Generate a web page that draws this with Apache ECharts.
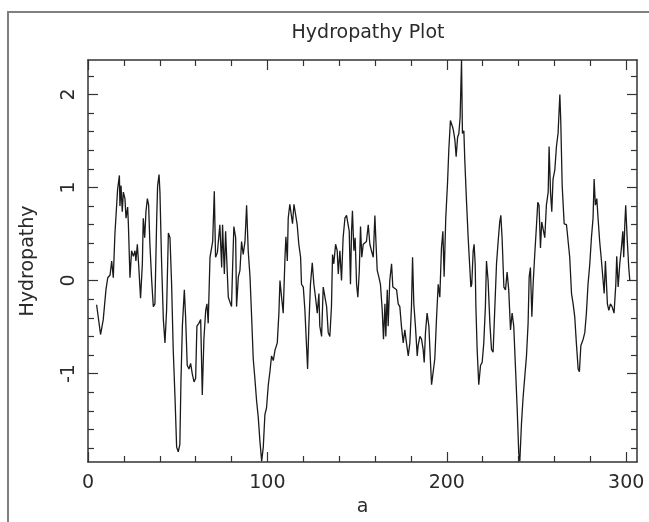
<!DOCTYPE html>
<html>
<head>
<meta charset="utf-8">
<script src="https://cdn.jsdelivr.net/npm/echarts@6/dist/echarts.min.js"></script>
<style>html,body{margin:0;padding:0;background:#fff}#c{width:649px;height:522px}</style>
</head>
<body>
<div id="c"></div>
<script>
// Residue position (window centre) and hydropathy value
const residue = [4.8,5.8,7.0,8.5,10.0,11.0,12.3,13.2,14.1,15.0,16.0,16.5,17.5,17.8,18.4,19.1,19.7,20.6,21.2,22.1,22.5,23.4,24.3,25.3,26.2,26.7,27.5,28.2,29.3,30.3,30.8,31.6,32.3,33.1,33.8,34.5,35.5,36.4,37.3,38.3,38.8,39.6,40.1,41.0,42.0,42.9,43.8,44.8,45.7,46.6,47.5,48.5,49.4,50.3,51.2,51.8,52.6,53.7,54.4,55.3,56.3,57.2,58.1,59.1,60.0,60.7,61.8,62.8,63.7,64.6,65.6,66.3,67.0,68.0,68.9,69.5,70.4,71.1,72.1,73.0,73.5,74.5,75.0,76.0,76.7,77.6,78.2,79.1,80.0,80.6,81.3,82.3,82.8,83.8,84.7,85.6,86.5,87.5,88.4,89.3,90.3,91.2,92.1,93.0,94.0,94.9,95.8,96.8,97.7,98.6,99.5,100.5,101.4,102.3,103.3,104.2,105.5,106.4,107.0,107.9,108.8,109.8,110.3,111.1,111.6,112.5,113.5,114.0,114.8,115.9,116.6,117.5,118.5,119.0,120.0,120.9,121.8,122.4,123.1,124.0,125.0,125.9,126.8,127.8,128.7,129.2,130.2,131.1,132.0,133.0,133.9,134.8,135.7,136.3,137.0,138.0,138.9,139.5,140.4,141.3,142.2,143.2,144.1,145.0,145.6,146.3,146.9,147.4,148.2,148.9,149.7,150.4,151.2,151.9,152.6,153.4,155.2,156.2,157.1,158.0,159.0,159.9,160.4,161.2,162.1,163.0,164.0,164.7,165.5,166.0,166.8,167.3,168.2,169.2,169.9,171.0,172.0,172.9,173.8,174.7,175.7,176.6,177.5,178.5,179.4,180.3,180.9,181.6,182.5,183.5,184.0,185.0,185.9,186.8,187.4,188.1,189.0,190.0,190.9,191.5,192.4,193.3,194.3,195.2,196.1,197.0,197.8,198.5,199.4,200.4,201.1,202.0,203.2,203.7,204.5,205.2,206.0,206.7,207.4,208.2,208.7,209.5,210.0,211.0,211.9,212.8,213.4,213.9,214.7,215.2,215.8,216.2,216.9,217.8,218.8,219.7,220.6,221.5,222.1,223.0,224.0,224.9,225.8,226.7,227.7,228.6,229.5,230.1,230.8,231.8,232.7,233.6,234.5,235.5,236.4,237.3,238.3,239.2,240.1,240.7,241.6,242.5,243.5,244.4,245.3,245.9,246.6,247.4,248.1,249.0,250.0,250.7,251.4,252.2,252.9,253.7,254.6,255.5,256.5,257.0,257.8,258.5,259.2,260.2,261.1,262.0,262.5,263.0,263.5,264.3,265.4,266.7,267.6,268.5,269.5,270.4,271.3,272.2,273.2,273.9,274.7,276.0,276.9,277.8,278.7,279.7,280.6,281.5,282.1,282.8,283.6,284.3,285.2,286.2,287.1,287.7,288.4,289.0,289.5,290.3,291.2,292.1,293.2,294.2,294.7,295.5,296.4,297.3,298.1,298.6,299.2,299.7,300.5,301.4,302.0];
const hydropathy = [-0.26,-0.25,-0.58,-0.42,-0.10,0.03,0.06,0.21,0.03,0.50,0.49,0.98,1.13,0.80,1.02,0.74,0.95,0.88,0.67,0.79,0.61,0.03,0.32,0.26,0.32,0.21,0.39,0.18,-0.19,0.18,0.67,0.46,0.74,0.88,0.81,0.39,0.00,-0.28,-0.25,0.67,1.02,1.14,0.95,0.21,-0.42,-0.67,-0.32,0.51,0.46,-0.04,-0.74,-1.26,-1.79,-1.84,-1.76,-1.09,-0.49,-0.10,-0.39,-0.91,-0.95,-0.89,-1.00,-1.09,-1.05,-0.49,-0.46,-0.42,-1.23,-0.63,-0.32,-0.25,-0.46,0.25,0.23,0.42,0.96,0.25,0.30,0.32,0.60,0.14,0.60,0.07,0.53,0.10,-0.18,-0.18,-0.28,0.14,0.58,0.46,-0.28,0.04,0.11,0.42,0.28,0.42,0.81,0.32,0.04,-0.39,-0.84,-1.05,-1.30,-1.47,-1.72,-1.94,-1.79,-1.44,-1.37,-1.12,-0.98,-0.81,-0.86,-0.75,-0.67,-0.35,0.00,-0.18,-0.35,0.25,0.47,0.21,0.67,0.82,0.81,0.61,0.82,0.81,0.60,0.39,0.25,-0.04,-0.07,-0.32,-0.70,-0.95,-0.49,-0.04,0.19,-0.04,-0.18,-0.35,-0.14,-0.49,-0.60,-0.07,-0.05,-0.28,-0.56,-0.60,-0.28,0.28,0.18,0.39,0.32,0.07,0.32,0.00,0.46,0.67,0.70,0.68,0.53,-0.04,0.53,0.75,0.32,0.46,-0.04,-0.18,0.10,0.58,0.25,0.39,0.42,0.60,0.39,0.32,0.25,0.70,0.46,0.11,0.04,-0.04,-0.32,-0.63,-0.25,-0.60,-0.10,-0.49,0.00,0.18,-0.07,-0.07,-0.10,-0.25,-0.28,-0.49,-0.67,-0.53,-0.67,-0.81,-0.67,-0.28,0.25,-0.25,-0.49,-0.81,-0.70,-0.60,-0.63,-0.74,-0.88,-0.56,-0.35,-0.49,-0.88,-1.12,-1.12,-0.84,-0.39,-0.04,-0.18,0.35,0.53,0.04,0.67,1.05,1.40,1.72,1.65,1.61,1.51,1.33,1.54,1.58,1.75,2.37,1.58,1.61,1.30,0.84,0.46,0.14,-0.07,-0.04,0.32,0.39,0.18,-0.28,-0.74,-1.12,-0.91,-0.88,-0.67,-0.28,0.21,0.00,-0.46,-0.74,-0.77,-0.32,0.18,0.42,0.63,0.70,0.46,-0.07,-0.10,0.09,-0.10,-0.53,-0.35,-0.49,-0.95,-1.37,-1.86,-1.94,-1.54,-1.26,-1.26,-0.81,-0.46,0.04,0.14,-0.39,-0.04,0.28,0.60,0.84,0.81,0.35,0.63,0.63,0.46,0.81,0.95,1.44,0.95,0.74,1.09,1.19,1.44,1.58,1.58,2.00,1.72,1.02,0.61,0.60,0.58,0.25,-0.14,-0.25,-0.39,-0.67,-0.95,-0.98,-0.70,-0.63,-0.56,-0.35,-0.04,0.18,0.46,0.67,1.09,0.81,0.88,0.67,0.42,0.21,0.00,-0.14,0.21,-0.04,-0.25,-0.32,-0.25,-0.28,-0.35,-0.04,0.26,-0.07,0.18,0.35,0.53,0.25,0.60,0.81,0.46,0.14,0.00];

const xMajorTicks = [0, 100, 200, 300];
const xMinorTicks = [20, 40, 60, 80, 120, 140, 160, 180, 220, 240, 260, 280];
const yMajorTicks = [-1, 0, 1, 2];
const yMinorTicks = [-1.8, -1.6, -1.4, -1.2, -0.8, -0.6, -0.4, -0.2, 0.2, 0.4, 0.6, 0.8, 1.2, 1.4, 1.6, 1.8, 2.2];
const xRange = [0, 306];
const yRange = [-1.95, 2.37];

const FONT = 'DejaVu Sans';
const INK = '#2a2a2a';
const lineStyle = { color: '#333', width: 1.5 };

function xAxisDef(pos, ticks, len, showLine, showLabels) {
  return {
    type: 'value', position: pos, min: xRange[0], max: xRange[1],
    splitLine: { show: false },
    axisLine: { show: showLine, onZero: false, lineStyle },
    axisTick: { show: true, inside: true, length: len, customValues: ticks, lineStyle: { color: '#333', width: 1.2 } },
    axisLabel: { show: showLabels, customValues: ticks, fontFamily: FONT, fontSize: 19, color: INK, margin: 12 }
  };
}
function yAxisDef(pos, ticks, len, showLine, showLabels) {
  return {
    type: 'value', position: pos, min: yRange[0], max: yRange[1],
    splitLine: { show: false },
    axisLine: { show: showLine, onZero: false, lineStyle },
    axisTick: { show: true, inside: true, length: len, customValues: ticks, lineStyle: { color: '#333', width: 1.2 } },
    axisLabel: { show: showLabels, customValues: ticks, rotate: 90, fontFamily: FONT, fontSize: 19, color: INK, margin: 9 }
  };
}

const xa0 = xAxisDef('bottom', xMajorTicks, 10, true, true);
xa0.name = 'a'; xa0.nameLocation = 'middle'; xa0.nameGap = 36;
xa0.nameTextStyle = { fontFamily: FONT, fontSize: 19, color: INK };
const ya0 = yAxisDef('left', yMajorTicks, 10, true, true);
ya0.name = 'Hydropathy'; ya0.nameLocation = 'middle'; ya0.nameGap = 50;
ya0.nameTextStyle = { fontFamily: FONT, fontSize: 19, color: INK };

const chart = echarts.init(document.getElementById('c'), null, { renderer: 'canvas' });
chart.setOption({
  animation: false,
  backgroundColor: '#fff',
  title: {
    text: 'Hydropathy Plot', left: 363, top: 19, textAlign: 'center',
    textStyle: { fontFamily: FONT, fontSize: 19, fontWeight: 'normal', color: INK }
  },
  graphic: [{
    type: 'rect', silent: true, z: -1,
    shape: { x: 8, y: 12, width: 800, height: 800 },
    style: { fill: 'none', stroke: '#808080', lineWidth: 2 }
  }],
  grid: { left: 88, top: 60, width: 549, height: 409, containLabel: false },
  xAxis: [
    xa0,
    xAxisDef('bottom', xMinorTicks, 6, false, false),
    xAxisDef('top', xMajorTicks, 10, true, false),
    xAxisDef('top', xMinorTicks, 6, false, false)
  ],
  yAxis: [
    ya0,
    yAxisDef('left', yMinorTicks, 6, false, false),
    yAxisDef('right', yMajorTicks, 10, true, false),
    yAxisDef('right', yMinorTicks, 6, false, false)
  ],
  series: [{
    type: 'line', xAxisIndex: 0, yAxisIndex: 0,
    data: residue.map((r, i) => [r, hydropathy[i]]),
    showSymbol: false, symbol: 'none',
    lineStyle: { color: '#1a1a1a', width: 1.3 },
    clip: true
  }]
});
</script>
</body>
</html>
